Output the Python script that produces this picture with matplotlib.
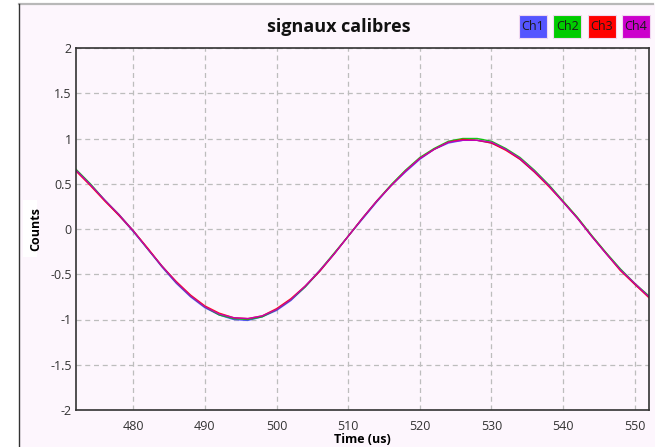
import matplotlib
matplotlib.use("Agg")
import matplotlib.pyplot as plt
from matplotlib.patches import Rectangle
from matplotlib.ticker import FuncFormatter
import numpy as np

# Donnees (echantillons toutes les 2 us)
time_us = np.arange(472, 553, 2)
ch1 = [0.65, 0.49, 0.32, 0.15, -0.03, -0.22, -0.42, -0.60, -0.75, -0.87, -0.95,
       -1.00, -1.01, -0.97, -0.90, -0.79, -0.64, -0.47, -0.28, -0.08, 0.11, 0.30,
       0.48, 0.63, 0.77, 0.88, 0.95, 0.98, 0.98, 0.95, 0.88, 0.77, 0.63, 0.48,
       0.30, 0.12, -0.08, -0.27, -0.45, -0.61, -0.75]
ch2 = [0.66, 0.50, 0.32, 0.16, -0.02, -0.22, -0.41, -0.59, -0.74, -0.86, -0.95,
       -0.99, -1.00, -0.97, -0.89, -0.78, -0.64, -0.46, -0.27, -0.08, 0.12, 0.31,
       0.49, 0.65, 0.79, 0.89, 0.97, 1.00, 1.00, 0.97, 0.89, 0.79, 0.65, 0.49,
       0.31, 0.13, -0.07, -0.26, -0.44, -0.60, -0.74]
ch3 = [0.64, 0.48, 0.31, 0.15, -0.02, -0.21, -0.41, -0.58, -0.73, -0.85, -0.93,
       -0.98, -0.99, -0.96, -0.88, -0.77, -0.63, -0.47, -0.28, -0.08, 0.12, 0.31,
       0.48, 0.64, 0.78, 0.88, 0.96, 0.99, 0.98, 0.95, 0.87, 0.77, 0.63, 0.47,
       0.30, 0.12, -0.08, -0.27, -0.46, -0.61, -0.76]
ch4 = [0.65, 0.49, 0.32, 0.16, -0.02, -0.22, -0.41, -0.59, -0.74, -0.86, -0.94,
       -0.98, -0.99, -0.96, -0.89, -0.78, -0.63, -0.46, -0.28, -0.08, 0.12, 0.31,
       0.48, 0.64, 0.78, 0.88, 0.96, 0.98, 0.98, 0.96, 0.88, 0.78, 0.64, 0.48,
       0.30, 0.12, -0.08, -0.27, -0.45, -0.60, -0.75]
channels = ["Ch1", "Ch2", "Ch3", "Ch4"]
line_colors = ["#4444ff", "#00c000", "#ff0000", "#c000c0"]
box_colors = ["#5555ff", "#00cc00", "#ff0000", "#cc00cc"]

plt.rcParams["font.family"] = ["Open Sans", "DejaVu Sans"]

W, H = 658, 447
BG = "#fdf6fd"
fig = plt.figure(figsize=(W / 100, H / 100), dpi=100)
fig.patch.set_facecolor("white")

def px(x0, y0, w, h):
    # rectangle en pixels (origine en haut a gauche) -> coords figure
    return (x0 / W, 1 - (y0 + h) / H, w / W, h / H)

# panneau de fond
x, y, w, h = px(19, 4, 636, 443)
fig.patches.append(Rectangle((x, y), w, h, transform=fig.transFigure,
                             facecolor=BG, edgecolor="none", zorder=-10))
fig.add_artist(plt.Line2D([19 / W, 653 / W], [1 - 4 / H, 1 - 4 / H],
                          transform=fig.transFigure, color="#b8b8b8", lw=1.6, zorder=-5))
fig.add_artist(plt.Line2D([19 / W, 19 / W], [0, 1 - 4 / H],
                          transform=fig.transFigure, color="#333333", lw=1.0, zorder=-5))
x, y, w, h = px(23, 200, 14, 57)
fig.patches.append(Rectangle((x, y), w, h, transform=fig.transFigure,
                             facecolor="white", edgecolor="none", zorder=-5))

ax = fig.add_axes(px(76, 48, 573, 362))
ax.set_facecolor(BG)

for vals, col in zip([ch1, ch2, ch3, ch4], line_colors):
    ax.plot(time_us, vals, color=col, lw=1.0, alpha=0.9, solid_joinstyle="round")

ax.set_xlim(472, 552)
ax.set_ylim(-2, 2)
ax.set_xticks(np.arange(480, 551, 10))
ax.set_yticks(np.arange(-2, 2.01, 0.5))
ax.yaxis.set_major_formatter(FuncFormatter(lambda v, p: f"{v:g}".replace("\u2212", "-")))
ax.tick_params(length=0, labelsize=9, labelcolor="#333333")
ax.tick_params(axis="x", pad=7)
ax.tick_params(axis="y", pad=3)
ax.grid(True, color="#bdbdbd", ls=(0, (4, 3)), lw=0.9)
for s in ax.spines.values():
    s.set_color("#333333")
    s.set_linewidth(1.2)

ax.set_xlabel("Time (us)", fontsize=9, fontweight="bold", labelpad=0)
ax.set_ylabel("Counts", fontsize=9, fontweight="bold", labelpad=6)
fig.text(339 / W, 1 - 27 / H, "signaux calibres", fontsize=13, fontweight="bold",
         ha="center", va="center", color="#111111")

# legende en boites colorees
for i, (name, col) in enumerate(zip(channels, box_colors)):
    x0 = 519 + i * 34.3
    x, y, w, h = px(x0, 15, 28, 23)
    fig.patches.append(Rectangle((x, y), w, h, transform=fig.transFigure,
                                 facecolor=col, edgecolor="#f0d8f0", lw=0.8, zorder=2))
    fig.text(x + w / 2, y + h / 2, name, fontsize=9, ha="center", va="center",
             color="#1a1a1a", zorder=3)

fig.savefig("out.png", dpi=100, facecolor=fig.get_facecolor())
